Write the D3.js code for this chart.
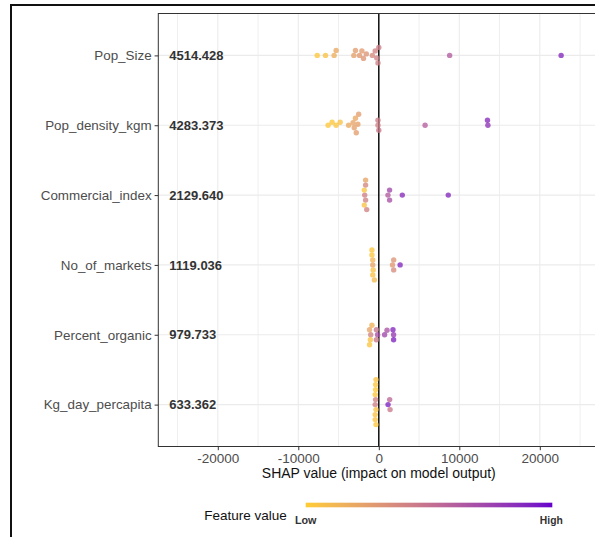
<!DOCTYPE html>
<html>
<head>
<meta charset="utf-8">
<script src="https://cdn.jsdelivr.net/npm/d3@7"></script>
<style>
  html, body { margin: 0; padding: 0; background: #fff; }
  svg { display: block; font-family: "Liberation Sans", Arial, sans-serif; }
</style>
</head>
<body>
<svg id="chart" width="595" height="537"></svg>
<script>
// Features, ordered by mean |SHAP| (top to bottom)
const features = ["Pop_Size", "Pop_density_kgm", "Commercial_index", "No_of_markets", "Percent_organic", "Kg_day_percapita"];
const meanAbsShap = [4514.428, 4283.373, 2129.640, 1119.036, 979.733, 633.362];
const xTicks = [-20000, -10000, 0, 10000, 20000];
const xMinorTicks = [-25000, -15000, -5000, 5000, 15000, 25000];

// SHAP values per observation and the normalised feature value (0 = low, 1 = high)
const shapPopSize = [-7650, -6620, -5550, -5300, -3100, -2900, -2400, -2100, -1900, -1550, -800, -450, -250, -100, 0, 8800, 22650];
const fvPopSize   = [0.02, 0.05, 0.16, 0.2, 0.24, 0.26, 0.28, 0.27, 0.3, 0.3, 0.36, 0.4, 0.42, 0.42, 0.44, 0.62, 0.88];

const shapPopDensity = [-6300, -5800, -5300, -4800, -3750, -3200, -3050, -2900, -2800, -2600, -2500, -100, -100, 0, 5750, 13550, 13500];
const fvPopDensity   = [0.02, 0.03, 0.04, 0.06, 0.18, 0.22, 0.24, 0.2, 0.25, 0.24, 0.26, 0.42, 0.44, 0.46, 0.6, 0.82, 0.86];

const shapCommercial = [-1750, -1800, -1640, -1640, -1800, -1640, -1500, 1140, 1340, 1340, 2920, 8630];
const fvCommercial   = [0.42, 0.04, 0.4, 0.38, 0.06, 0.22, 0.4, 0.62, 0.72, 0.68, 0.86, 0.88];

const shapMarkets = [-750, -750, -700, -850, -750, -850, -550, 1700, 1850, 2650, 1850];
const fvMarkets   = [0.22, 0.12, 0.06, 0.04, 0.05, 0.03, 0.1, 0.28, 0.3, 0.88, 0.36];

const shapOrganic = [-1000, -1150, -1050, -850, -150, -1150, -300, -300, 720, 1020, 1840, 1760, 1840];
const fvOrganic   = [0.4, 0.22, 0.05, 0.14, 0.68, 0.04, 0.48, 0.46, 0.72, 0.66, 0.78, 0.88, 0.9];

const shapKgDay = [-450, -400, -350, -450, -450, -400, -450, -400, -350, -350, 1150, 1350, 1400];
const fvKgDay   = [0.42, 0.4, 0.05, 0.03, 0.05, 0.02, 0.05, 0.04, 0.03, 0.05, 0.9, 0.55, 0.45];

const shapByFeature = [shapPopSize, shapPopDensity, shapCommercial, shapMarkets, shapOrganic, shapKgDay];
const fvByFeature   = [fvPopSize, fvPopDensity, fvCommercial, fvMarkets, fvOrganic, fvKgDay];

// ---- layout ----
const W = 595, H = 537;
const panel = { left: 158.3, top: 13.5, right: 599.5, bottom: 446.5 };

const svg = d3.select("#chart");
svg.append("rect").attr("width", W).attr("height", H).attr("fill", "#fff");

const x = d3.scaleLinear().domain([-27390, 27390]).range([panel.left, panel.left + 2 * 220.5]);
const y = d3.scalePoint().domain(features).range([panel.top, panel.bottom]).padding(0.6);
const color = d3.scaleLinear().domain([0, 1]).range(["#FFCC33", "#6600CC"]).interpolate(d3.interpolateLab);

// outer frame
svg.append("rect")
  .attr("x", 11).attr("y", 5).attr("width", 700).attr("height", 700)
  .attr("fill", "none").attr("stroke", "#111").attr("stroke-width", 2);

const plot = svg.append("g");

// grid
plot.selectAll("line.minor").data(xMinorTicks).join("line")
  .attr("x1", d => x(d)).attr("x2", d => x(d))
  .attr("y1", panel.top).attr("y2", panel.bottom)
  .attr("stroke", "#EFEFEF").attr("stroke-width", 1);
plot.selectAll("line.major").data(xTicks).join("line")
  .attr("x1", d => x(d)).attr("x2", d => x(d))
  .attr("y1", panel.top).attr("y2", panel.bottom)
  .attr("stroke", "#EBEBEB").attr("stroke-width", 1.1);
plot.selectAll("line.hgrid").data(features).join("line")
  .attr("x1", panel.left).attr("x2", panel.right)
  .attr("y1", d => y(d)).attr("y2", d => y(d))
  .attr("stroke", "#EBEBEB").attr("stroke-width", 1.1);

// zero reference line
plot.append("line")
  .attr("x1", x(0)).attr("x2", x(0))
  .attr("y1", panel.top).attr("y2", panel.bottom)
  .attr("stroke", "#000").attr("stroke-width", 1.4);

// beeswarm placement: each point takes the nearest free vertical offset
function swarm(xs, cy, minDist) {
  const placed = [];
  return xs.map(px => {
    let off = 0;
    for (let k = 0; k < 400; k++) {
      const cand = (k % 2 === 0 ? 1 : -1) * Math.ceil(k / 2) * 0.5;
      const ok = placed.every(p => {
        const dx = p.x - px, dy = p.y - (cy + cand);
        return dx * dx + dy * dy >= minDist * minDist;
      });
      if (ok) { off = cand; break; }
    }
    const pt = { x: px, y: cy + off };
    placed.push(pt);
    return pt;
  });
}

const points = [];
features.forEach((f, i) => {
  const xs = shapByFeature[i].map(v => x(v));
  const pos = swarm(xs, y(f), 5);
  pos.forEach((p, j) => points.push({ cx: p.x, cy: p.y, fv: fvByFeature[i][j] }));
});

plot.selectAll("circle.pt").data(points).join("circle")
  .attr("cx", d => d.cx).attr("cy", d => d.cy).attr("r", 2.7)
  .attr("fill", d => color(d.fv)).attr("fill-opacity", 0.78);

// mean |SHAP| labels
plot.selectAll("text.mean").data(features).join("text")
  .attr("x", 169.3).attr("y", d => y(d)).attr("dy", "0.36em")
  .attr("font-size", 13).attr("font-weight", "bold").attr("fill", "#333")
  .text((d, i) => meanAbsShap[i].toFixed(3));

// panel border
svg.append("rect")
  .attr("x", panel.left).attr("y", panel.top)
  .attr("width", panel.right - panel.left).attr("height", panel.bottom - panel.top)
  .attr("fill", "none").attr("stroke", "#333").attr("stroke-width", 1);

// y axis
const yAxis = svg.append("g").attr("transform", `translate(${panel.left},0)`)
  .call(d3.axisLeft(y).tickSize(3.7).tickPadding(3));
yAxis.select(".domain").remove();
yAxis.selectAll("line").attr("stroke", "#333");
yAxis.selectAll("text").attr("font-size", 13.4).attr("fill", "#4D4D4D")
  .attr("font-family", "Liberation Sans, Arial, sans-serif");

// x axis
const xAxis = svg.append("g").attr("transform", `translate(0,${panel.bottom})`)
  .call(d3.axisBottom(x).tickValues(xTicks).tickSize(3.7).tickPadding(2.9).tickFormat(d3.format("d")));
xAxis.select(".domain").remove();
xAxis.selectAll("line").attr("stroke", "#333");
xAxis.selectAll("text").attr("font-size", 13.5).attr("fill", "#4D4D4D")
  .attr("font-family", "Liberation Sans, Arial, sans-serif")
  .text(d => (d < 0 ? "-" : "") + Math.abs(d));

svg.append("text")
  .attr("x", x(0)).attr("y", 477.5).attr("text-anchor", "middle")
  .attr("font-size", 14).attr("fill", "#111")
  .text("SHAP value (impact on model output)");

// colour legend
const legend = { x0: 305.7, x1: 552.3, y: 502.7, h: 4.6 };
const defs = svg.append("defs");
const grad = defs.append("linearGradient").attr("id", "fvGrad")
  .attr("x1", "0%").attr("x2", "100%").attr("y1", "0%").attr("y2", "0%");
d3.range(0, 1.0001, 0.05).forEach(t => {
  grad.append("stop").attr("offset", `${t * 100}%`).attr("stop-color", color(t));
});
svg.append("rect")
  .attr("x", legend.x0).attr("y", legend.y)
  .attr("width", legend.x1 - legend.x0).attr("height", legend.h)
  .attr("fill", "url(#fvGrad)");

svg.append("text").attr("x", 204.3).attr("y", 519.5)
  .attr("font-size", 13.5).attr("fill", "#111").text("Feature value");
svg.append("text").attr("x", legend.x0).attr("y", 524).attr("text-anchor", "middle")
  .attr("font-size", 10.8).attr("font-weight", "bold").attr("fill", "#333").text("Low");
svg.append("text").attr("x", legend.x1 - 1).attr("y", 524).attr("text-anchor", "middle")
  .attr("font-size", 10.3).attr("font-weight", "bold").attr("fill", "#333").text("High");
</script>
</body>
</html>
